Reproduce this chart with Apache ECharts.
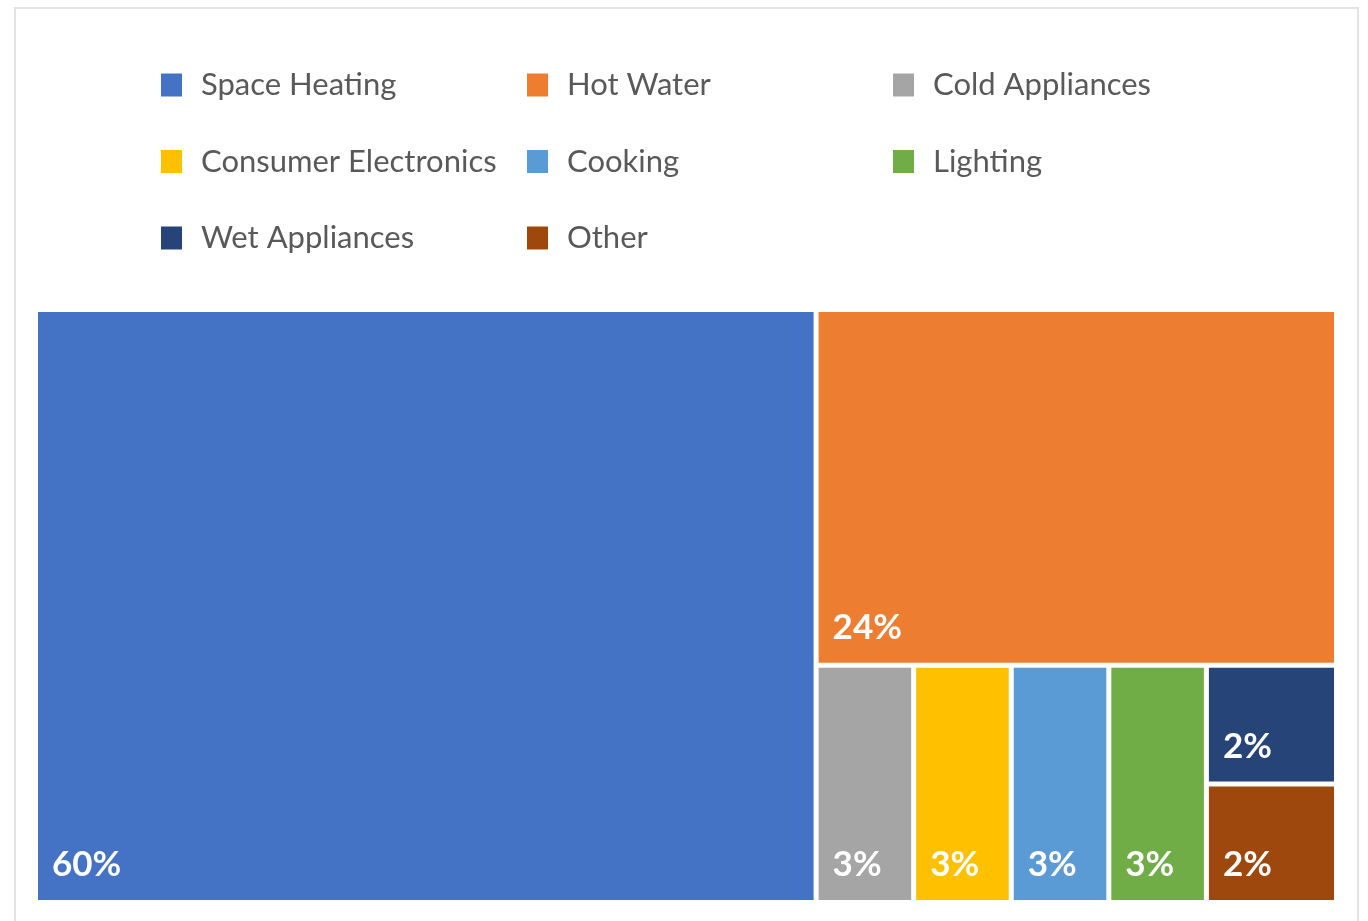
<!DOCTYPE html>
<html>
<head>
<meta charset="utf-8">
<title>Household energy use by end use</title>
<script src="https://cdn.jsdelivr.net/npm/echarts@6/dist/echarts.min.js"></script>
<style>
  html, body { margin: 0; padding: 0; background: #ffffff; }
  #chart { width: 1368px; height: 921px; }
</style>
</head>
<body>
<div id="chart"></div>
<script>
// End uses and their share of household energy (%)
const categories = ['Space Heating', 'Hot Water', 'Cold Appliances', 'Consumer Electronics',
                    'Cooking', 'Lighting', 'Wet Appliances', 'Other'];
const shares = [60, 24, 3, 3, 3, 3, 2, 2];
const colors = ['#4472C4', '#ED7D31', '#A5A5A5', '#FFC000', '#5B9BD5', '#70AD47', '#264478', '#9E480E'];

// Legend columns
const legendColumns = [
  ['Space Heating', 'Consumer Electronics', 'Wet Appliances'],
  ['Hot Water', 'Cooking', 'Other'],
  ['Cold Appliances', 'Lighting']
];
const legendLefts = [161, 527, 893];

function leaf(i) {
  return { name: categories[i], value: shares[i], itemStyle: { color: colors[i] } };
}

// Nested grouping so the small tiles fall into side-by-side columns
const tree = [
  leaf(0),
  {
    name: 'rest',
    children: [
      leaf(1),
      {
        name: 'bottom',
        children: [
          {
            name: 'columns',
            children: [
              { name: 'colsA', children: [leaf(2), leaf(3)] },
              { name: 'colsB', children: [leaf(4), leaf(5)] }
            ]
          },
          { name: 'pair', children: [leaf(6), leaf(7)] }
        ]
      }
    ]
  }
];

const chart = echarts.init(document.getElementById('chart'), null, { renderer: 'canvas' });

const legendText = {
  fontFamily: 'Lato',
  fontSize: 31,
  color: '#595959',
  lineHeight: 40,
  padding: [0, 0, 0, 14]
};

const option = {
  animation: false,
  backgroundColor: '#ffffff',
  graphic: [{
    type: 'rect',
    silent: true,
    shape: { x: 15, y: 8, width: 1343, height: 940 },
    style: { fill: 'none', stroke: '#e3e3e3', lineWidth: 2 }
  }],
  legend: legendColumns.map((names, k) => ({
    data: names,
    orient: 'vertical',
    left: legendLefts[k],
    top: 65,
    padding: 0,
    itemGap: 36.5,
    itemWidth: 21,
    itemHeight: 23,
    icon: 'rect',
    selectedMode: false,
    textStyle: legendText
  })),
  grid: { show: false, left: 0, top: 0, width: 1, height: 1 },
  xAxis: { show: false, type: 'category', data: [] },
  yAxis: { show: false, type: 'value' },
  series: categories.map((name, i) => ({
    name: name,
    type: 'bar',
    data: [],
    itemStyle: { color: colors[i] }
  })).concat([{
    type: 'treemap',
    name: 'Energy use',
    left: 38,
    top: 312,
    width: 1296,
    height: 588,
    roam: false,
    nodeClick: false,
    sort: false,
    squareRatio: 1.3,
    breadcrumb: { show: false },
    itemStyle: { borderWidth: 0, gapWidth: 5, borderColor: '#ffffff' },
    label: {
      show: true,
      position: 'insideBottomLeft',
      distance: 14,
      padding: [0, 0, 3, 0],
      formatter: '{c}%',
      fontFamily: 'Lato',
      fontWeight: 'bold',
      fontSize: 35,
      lineHeight: 36,
      color: '#ffffff'
    },
    upperLabel: { show: false },
    emphasis: { disabled: true },
    data: tree
  }])
};

chart.setOption(option);
</script>
</body>
</html>
